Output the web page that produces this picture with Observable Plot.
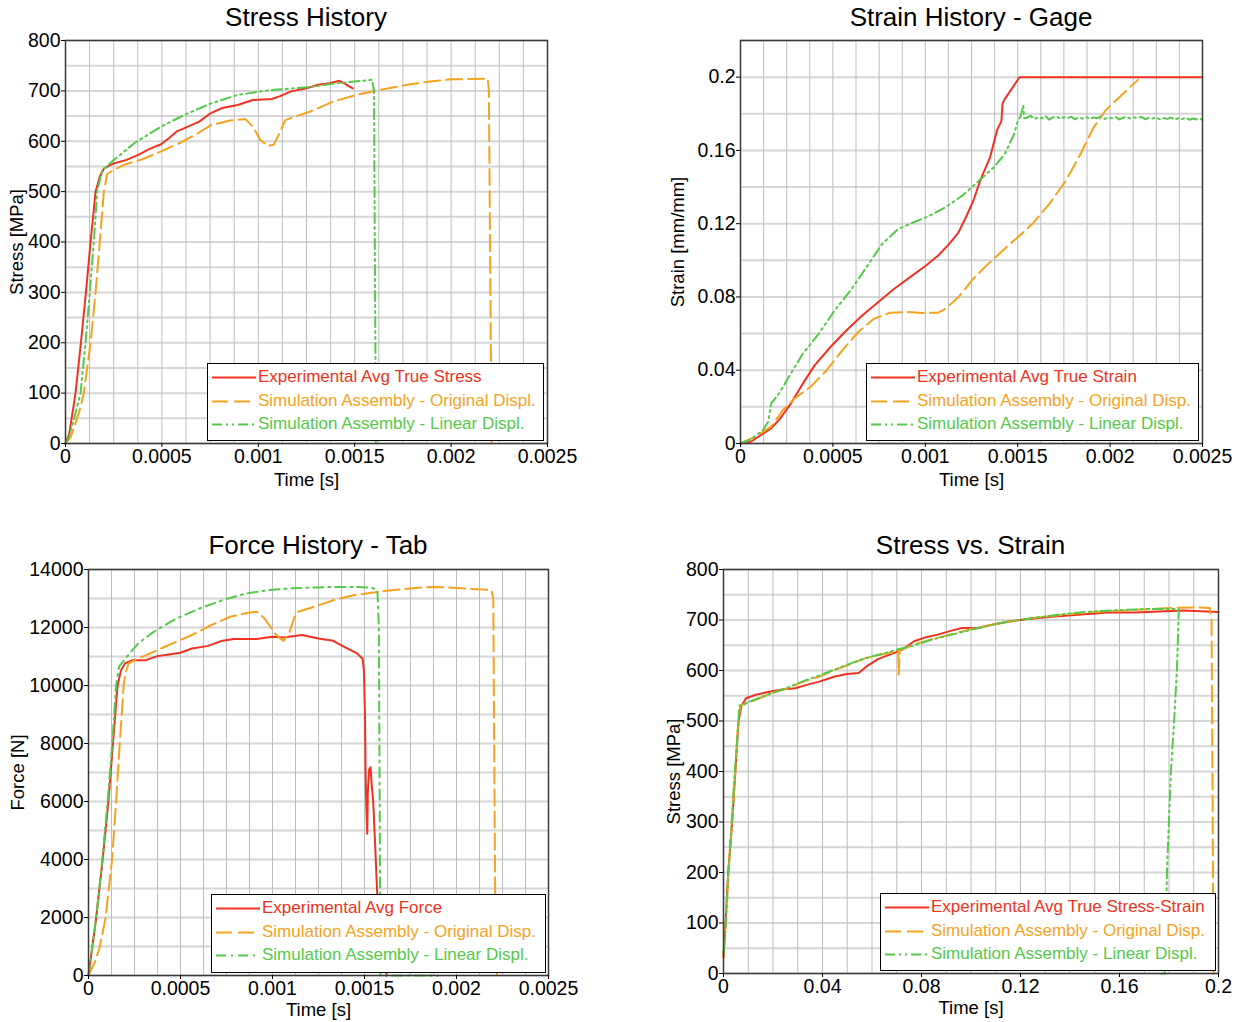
<!DOCTYPE html>
<html>
<head>
<meta charset="utf-8">
<script src="https://cdn.jsdelivr.net/npm/d3@7"></script>
<script src="https://cdn.jsdelivr.net/npm/@observablehq/plot@0.6"></script>
<style>
  html, body { margin: 0; padding: 0; background: #fff; }
  body { width: 1242px; height: 1022px; position: relative; overflow: hidden; font-family: "Liberation Sans", Arial, sans-serif; }
  .panel { position: absolute; }
  .title { position: absolute; text-align: center; font-size: 26px; line-height: 30px; color: #000; }
  .legend { position: absolute; background: #fff; border: 1px solid #000; box-sizing: border-box; padding-top: 1px; }
  .row { position: relative; height: 23.5px; line-height: 23.5px; font-size: 17px; white-space: nowrap; }
  .row .sw { position: absolute; left: 4px; top: 7px; }
  .row .tx { position: absolute; left: 50px; top: 0; }
</style>
</head>
<body>
<script>
// ---------------- colours / styles ----------------
const RED = "#ee3322", ORANGE = "#f5a31e", GREEN = "#55c94a";

// ---------------- tick labels ----------------
const timeTicks = [0, 0.0005, 0.001, 0.0015, 0.002, 0.0025];
const stressTicks = [0, 100, 200, 300, 400, 500, 600, 700, 800];
const strainTicks = [0, 0.04, 0.08, 0.12, 0.16, 0.2];
const forceTicks = [0, 2000, 4000, 6000, 8000, 10000, 12000, 14000];
const strainXTicks = [0, 0.04, 0.08, 0.12, 0.16, 0.2];

// ---------------- grid positions ----------------
const timeGrid = [0, 0.000125, 0.00025, 0.000375, 0.0005, 0.000625, 0.00075, 0.000875, 0.001, 0.001125, 0.00125, 0.001375, 0.0015, 0.001625, 0.00175, 0.001875, 0.002, 0.002125, 0.00225, 0.002375, 0.0025];
const stressGrid = [0, 50, 100, 150, 200, 250, 300, 350, 400, 450, 500, 550, 600, 650, 700, 750, 800];
const strainGrid = [0, 0.02, 0.04, 0.06, 0.08, 0.1, 0.12, 0.14, 0.16, 0.18, 0.2, 0.22];
const forceGrid = [0, 1000, 2000, 3000, 4000, 5000, 6000, 7000, 8000, 9000, 10000, 11000, 12000, 13000, 14000];
const strainXGrid = [0, 0.01, 0.02, 0.03, 0.04, 0.05, 0.06, 0.07, 0.08, 0.09, 0.1, 0.11, 0.12, 0.13, 0.14, 0.15, 0.16, 0.17, 0.18, 0.19, 0.2];

// ---------------- Stress History [time s, stress MPa] ----------------
const stressExp = [[0,0],[0.00002,20],[0.000052,100],[0.00008,200],[0.000106,300],[0.00013,400],[0.000156,500],[0.000178,530],[0.0002,546],[0.00025,556],[0.000317,563],[0.000377,573],[0.000437,585],[0.000496,594],[0.000536,606],[0.000575,619],[0.000635,629],[0.000694,639],[0.000754,656],[0.000813,666],[0.000893,672],[0.000972,682],[0.00107,684],[0.00111,689],[0.00117,699],[0.00125,705],[0.00131,712],[0.00137,715],[0.00142,720],[0.00145,714],[0.00149,705]];
const stressOrig = [[0,0],[0.000026,12],[0.00005,38],[0.000078,72],[0.000095,100],[0.00013,200],[0.000156,300],[0.000178,400],[0.000199,500],[0.000216,535],[0.00026,545],[0.000317,555],[0.000397,564],[0.000496,580],[0.000595,597],[0.000675,613],[0.000754,632],[0.000853,641],[0.000933,644],[0.000972,629],[0.00101,603],[0.00105,591],[0.00108,593],[0.00111,616],[0.00114,642],[0.00119,649],[0.00127,659],[0.00139,679],[0.00151,692],[0.00163,702],[0.00177,712],[0.00188,718],[0.002,723],[0.00219,724],[0.002196,700],[0.00221,0]];
const stressLin = [[0,0],[0.000017,12],[0.000045,50],[0.000078,100],[0.000104,200],[0.000126,300],[0.000147,400],[0.000164,500],[0.00019,542],[0.000245,561],[0.00036,597],[0.000496,629],[0.000615,652],[0.000754,675],[0.000893,692],[0.00105,701],[0.00125,707],[0.00141,715],[0.00159,722],[0.0016,700],[0.00161,0]];

// ---------------- Strain History [time s, strain mm/mm] ----------------
const strainExp = [[0,0],[0.000058,0.0011],[0.000166,0.0083],[0.000209,0.0129],[0.000273,0.0219],[0.000338,0.0328],[0.000402,0.0428],[0.000488,0.0528],[0.000574,0.0618],[0.00066,0.07],[0.000746,0.0772],[0.000832,0.0845],[0.000918,0.0908],[0.001004,0.0972],[0.00107,0.1026],[0.00113,0.109],[0.00118,0.1153],[0.00122,0.1235],[0.00126,0.1325],[0.0013,0.1443],[0.00135,0.1561],[0.00139,0.1715],[0.001412,0.176],[0.001418,0.1855],[0.00143,0.188],[0.00151,0.2],[0.0025,0.2]];
const strainOrig = [[0,0],[0.00008,0.0038],[0.000166,0.0092],[0.00023,0.0183],[0.000294,0.0247],[0.00038,0.031],[0.000466,0.04],[0.000552,0.051],[0.000638,0.061],[0.000724,0.0682],[0.00081,0.0714],[0.000896,0.0718],[0.000982,0.0713],[0.00107,0.0714],[0.00111,0.0736],[0.00118,0.08],[0.00126,0.09],[0.00135,0.099],[0.00143,0.1063],[0.0015,0.1126],[0.00158,0.1199],[0.00167,0.1307],[0.00176,0.1434],[0.00184,0.158],[0.00191,0.1724],[0.001975,0.1818],[0.00206,0.19],[0.00215,0.1985]];
const strainLin = [[0,0],[0.000058,0.0024],[0.000123,0.0074],[0.00015,0.012],[0.000166,0.0219],[0.000209,0.0274],[0.000273,0.0383],[0.000338,0.0491],[0.000424,0.06],[0.00051,0.0727],[0.000596,0.0836],[0.000682,0.0963],[0.000767,0.109],[0.000853,0.1171],[0.000939,0.1208],[0.001025,0.1244],[0.00111,0.129],[0.0012,0.1353],[0.00128,0.1425],[0.00137,0.1507],[0.00143,0.158],[0.00148,0.1688],[0.0015,0.176],[0.001515,0.1785],[0.00153,0.1845],[0.001535,0.1775],
  [0.00155,0.1778],[0.00157,0.179],[0.00159,0.177],[0.00161,0.1782],[0.00163,0.1775],[0.00165,0.1788],[0.00167,0.1768],[0.00169,0.178],[0.00171,0.1786],[0.00173,0.1772],[0.00175,0.1781],[0.00177,0.1776],[0.00179,0.1784],[0.00181,0.177],[0.00183,0.1779],[0.00185,0.1774],[0.00187,0.1783],[0.00189,0.1771],[0.00191,0.178],[0.00193,0.1776],[0.00195,0.1786],[0.00197,0.1772],[0.00199,0.1779],[0.00201,0.1775],[0.00203,0.1782],[0.00205,0.1769],[0.00207,0.1778],[0.00209,0.1784],[0.00211,0.1773],[0.00213,0.178],[0.00215,0.1776],[0.00217,0.1783],[0.00219,0.177],[0.00221,0.1778],[0.00223,0.1774],[0.00225,0.1781],[0.00227,0.1769],[0.00229,0.1777],[0.00231,0.1772],[0.00233,0.178],[0.00235,0.1768],[0.00237,0.1776],[0.00239,0.1771],[0.00241,0.1779],[0.00243,0.1767],[0.00245,0.1774],[0.00247,0.1769],[0.00249,0.1772],[0.0025,0.1766]];

// ---------------- Force History [time s, force N] ----------------
const forceExp = [[0,0],[0.00004,1900],[0.000077,4000],[0.000108,6000],[0.000133,8000],[0.000158,10000],[0.000177,10530],[0.000198,10760],[0.000239,10875],[0.000312,10875],[0.000374,11013],[0.000437,11070],[0.0005,11128],[0.000562,11277],[0.000645,11358],[0.000728,11542],[0.00079,11600],[0.000915,11600],[0.000998,11680],[0.00106,11657],[0.00116,11738],[0.00125,11623],[0.00133,11542],[0.00139,11335],[0.00146,11105],[0.00149,10920],[0.001497,10500],[0.001503,8800],[0.001506,6955],[0.00151,5800],[0.001515,4886],[0.001518,6300],[0.001525,7100],[0.001533,7183],[0.00154,6500],[0.001547,6034],[0.001558,4500],[0.001569,2817],[0.00159,1200],[0.00162,0]];
const forceOrig = [[0,0],[0.000038,517],[0.000061,976],[0.000093,2000],[0.000128,4000],[0.00015,6000],[0.00017,8000],[0.000191,10000],[0.0002,10410],[0.000218,10760],[0.00027,10930],[0.000354,11160],[0.000457,11450],[0.000562,11740],[0.000666,12080],[0.00077,12370],[0.000853,12490],[0.000915,12545],[0.000957,12310],[0.000988,12025],[0.00102,11740],[0.00106,11540],[0.00109,11795],[0.00112,12370],[0.00114,12545],[0.00123,12720],[0.00133,12940],[0.00144,13110],[0.00154,13200],[0.00166,13290],[0.00179,13370],[0.00187,13400],[0.00198,13370],[0.00208,13330],[0.00219,13290],[0.0022,13000],[0.00221,2800],[0.00222,0]];
const forceLin = [[0,0],[0.000042,2000],[0.000075,4000],[0.000104,6000],[0.000129,8000],[0.00015,10000],[0.000166,10645],[0.000208,10990],[0.00027,11450],[0.000354,11850],[0.000478,12310],[0.000603,12655],[0.000728,12940],[0.000853,13170],[0.000977,13290],[0.0011,13350],[0.00123,13380],[0.00135,13400],[0.00146,13400],[0.00154,13370],[0.00157,13290],[0.001578,12000],[0.001587,0],[0.0019,0]];

// ---------------- Stress vs Strain [strain, stress MPa] ----------------
const ssExp = [[0,32],[0.0008,100],[0.0019,200],[0.0035,300],[0.0048,400],[0.0061,500],[0.0072,529],[0.0091,545],[0.0131,552],[0.0195,559],[0.0243,563],[0.029,565],[0.0339,572],[0.0387,578],[0.045,588],[0.0498,593],[0.0546,595],[0.0578,608],[0.0626,623],[0.069,635],[0.0722,641],[0.077,658],[0.0818,666],[0.0866,671],[0.0914,678],[0.0962,684],[0.1026,684],[0.109,691],[0.1153,697],[0.1233,702],[0.1313,706],[0.1393,709],[0.1473,712],[0.1553,715],[0.1665,715],[0.176,717],[0.1856,719],[0.2,716]];
const ssOrig = [[0,35],[0.0009,100],[0.002,200],[0.0034,300],[0.0047,400],[0.006,500],[0.0068,530],[0.009,535],[0.0115,539],[0.0195,555],[0.0259,565],[0.0323,578],[0.0387,588],[0.045,601],[0.0514,613],[0.0578,625],[0.0642,632],[0.0706,638],[0.0708,592],[0.0712,640],[0.077,651],[0.0834,661],[0.0914,671],[0.0994,681],[0.1073,689],[0.1153,697],[0.1249,704],[0.1345,709],[0.144,714],[0.1536,717],[0.1633,719],[0.1728,722],[0.1824,724],[0.19,725],[0.1965,724],[0.1972,700],[0.198,0]];
const ssLin = [[0,40],[0.001,100],[0.002,200],[0.0033,300],[0.0046,400],[0.006,500],[0.0065,531],[0.0082,531],[0.009,535],[0.0115,540],[0.0195,555],[0.0259,566],[0.0323,579],[0.0387,590],[0.045,602],[0.0514,614],[0.0578,625],[0.0642,633],[0.0706,642],[0.077,650],[0.0834,660],[0.0914,670],[0.0994,680],[0.1073,689],[0.1153,697],[0.1249,704],[0.1345,710],[0.144,715],[0.1536,718],[0.1665,721],[0.176,722],[0.184,722],[0.1832,602],[0.1821,502],[0.1808,403],[0.18,304],[0.1792,205],[0.1788,106],[0.1784,0],[0.177,0]];

// ---------------- legend names ----------------
const namesStress = ["Experimental Avg True Stress", "Simulation Assembly - Original Displ.", "Simulation Assembly - Linear Displ."];
const namesStrain = ["Experimental Avg True Strain", "Simulation Assembly - Original Disp.", "Simulation Assembly - Linear Displ."];
const namesForce = ["Experimental Avg Force", "Simulation Assembly - Original Disp.", "Simulation Assembly - Linear Displ."];
const namesSS = ["Experimental Avg True Stress-Strain", "Simulation Assembly - Original Disp.", "Simulation Assembly - Linear Displ."];

const DASH_O = "16,6";
const DASH_G = "10,4,2,4,2,4";
const DASH_G2 = "10,5,2,5";

const fmt = d3.format("~g");
const TICK_FS = 19.5, LABEL_FS = 18.5;

function panel(cfg) {
  const wrap = document.createElement("div");
  wrap.className = "panel";
  wrap.style.left = cfg.left + "px";
  wrap.style.top = cfg.top + "px";
  const styles = [
    {stroke: RED, dash: null},
    {stroke: ORANGE, dash: DASH_O},
    {stroke: GREEN, dash: cfg.gdash}
  ];
  const chart = Plot.plot({
    width: cfg.width, height: cfg.height,
    marginLeft: cfg.mL, marginRight: cfg.mR, marginTop: cfg.mT, marginBottom: cfg.mB,
    style: {fontFamily: '"Liberation Sans", Arial, sans-serif', fontSize: "18px", color: "#000", background: "transparent", overflow: "visible"},
    x: {domain: cfg.xDomain},
    y: {domain: cfg.yDomain},
    marks: [
      Plot.ruleY(cfg.yGrid, {stroke: "#d6d6d6", strokeWidth: 2}),
      Plot.ruleX(cfg.xGrid, {stroke: "#bdbdbd", strokeWidth: 1}),
      ...cfg.series.map((s, i) => Plot.line(s, {x: d => d[0], y: d => d[1], stroke: styles[i].stroke, strokeWidth: 2, strokeDasharray: styles[i].dash, curve: "linear"})),
      Plot.frame({stroke: "#3a3a3a", strokeWidth: 1.5}),
      Plot.axisX({ticks: cfg.xTicks, tickFormat: fmt, tickSize: 4, tickPadding: 2, fontSize: TICK_FS, label: null}),
      Plot.axisX({ticks: [], tickSize: 0, fontSize: LABEL_FS, label: "Time [s]", labelAnchor: "center", labelOffset: cfg.xLabelOffset, labelArrow: "none"}),
      Plot.axisY({ticks: cfg.yTicks, tickFormat: fmt, tickSize: 4, tickPadding: 1, fontSize: TICK_FS, label: null}),
      Plot.axisY({ticks: [], tickSize: 0, fontSize: LABEL_FS, label: cfg.yLabel, labelAnchor: "center", labelOffset: cfg.yLabelOffset, labelArrow: "none"})
    ]
  });
  wrap.appendChild(chart);
  document.body.appendChild(wrap);

  const t = document.createElement("div");
  t.className = "title";
  t.textContent = cfg.title;
  t.style.left = (cfg.left + cfg.mL) + "px";
  t.style.width = (cfg.width - cfg.mL - cfg.mR) + "px";
  t.style.top = cfg.titleTop + "px";
  document.body.appendChild(t);

  const lg = document.createElement("div");
  lg.className = "legend";
  lg.style.left = cfg.lg[0] + "px";
  lg.style.top = cfg.lg[1] + "px";
  lg.style.width = cfg.lg[2] + "px";
  lg.style.height = cfg.lg[3] + "px";
  cfg.names.forEach((n, i) => {
    const row = document.createElement("div");
    row.className = "row";
    const sw = Plot.plot({
      width: 44, height: 10, margin: 0, axis: null,
      style: {background: "transparent"},
      x: {domain: [0, 1]}, y: {domain: [0, 1]},
      marks: [Plot.ruleY([0.5], {x1: 0, x2: 1, stroke: styles[i].stroke, strokeWidth: 2, strokeDasharray: styles[i].dash})]
    });
    sw.classList.add("sw");
    sw.style.position = "absolute";
    row.appendChild(sw);
    const tx = document.createElement("span");
    tx.className = "tx";
    tx.style.color = styles[i].stroke;
    tx.textContent = n;
    row.appendChild(tx);
    lg.appendChild(row);
  });
  document.body.appendChild(lg);
}

panel({left: 0, top: 0, width: 621, height: 500, mL: 65, mR: 74, mT: 40, mB: 57,
  xDomain: [0, 0.0025], yDomain: [0, 800], xTicks: timeTicks, yTicks: stressTicks, xGrid: timeGrid, yGrid: stressGrid,
  yLabel: "Stress [MPa]", yLabelOffset: 56, xLabelOffset: 42, title: "Stress History", titleTop: 2,
  series: [stressExp, stressOrig, stressLin], gdash: DASH_G, names: namesStress, lg: [207, 363, 337, 78]});

panel({left: 621, top: 0, width: 621, height: 500, mL: 119, mR: 40, mT: 40, mB: 57,
  xDomain: [0, 0.0025], yDomain: [0, 0.22], xTicks: timeTicks, yTicks: strainTicks, xGrid: timeGrid, yGrid: strainGrid,
  yLabel: "Strain [mm/mm]", yLabelOffset: 70, xLabelOffset: 42, title: "Strain History - Gage", titleTop: 2,
  series: [strainExp, strainOrig, strainLin], gdash: DASH_G, names: namesStrain, lg: [866, 363, 333, 78]});

panel({left: 0, top: 500, width: 621, height: 522, mL: 88, mR: 73, mT: 69, mB: 47,
  xDomain: [0, 0.0025], yDomain: [0, 14000], xTicks: timeTicks, yTicks: forceTicks, xGrid: timeGrid, yGrid: forceGrid,
  yLabel: "Force [N]", yLabelOffset: 78, xLabelOffset: 40, title: "Force History - Tab", titleTop: 530,
  series: [forceExp, forceOrig, forceLin], gdash: DASH_G2, names: namesForce, lg: [211, 894, 335, 79]});

panel({left: 621, top: 500, width: 621, height: 522, mL: 102, mR: 24, mT: 69, mB: 49,
  xDomain: [0, 0.2], yDomain: [0, 800], xTicks: strainXTicks, yTicks: stressTicks, xGrid: strainXGrid, yGrid: stressGrid,
  yLabel: "Stress [MPa]", yLabelOffset: 57, xLabelOffset: 40, title: "Stress vs. Strain", titleTop: 530,
  series: [ssExp, ssOrig, ssLin], gdash: DASH_G, names: namesSS, lg: [880, 893, 336, 78]});
</script>
</body>
</html>
